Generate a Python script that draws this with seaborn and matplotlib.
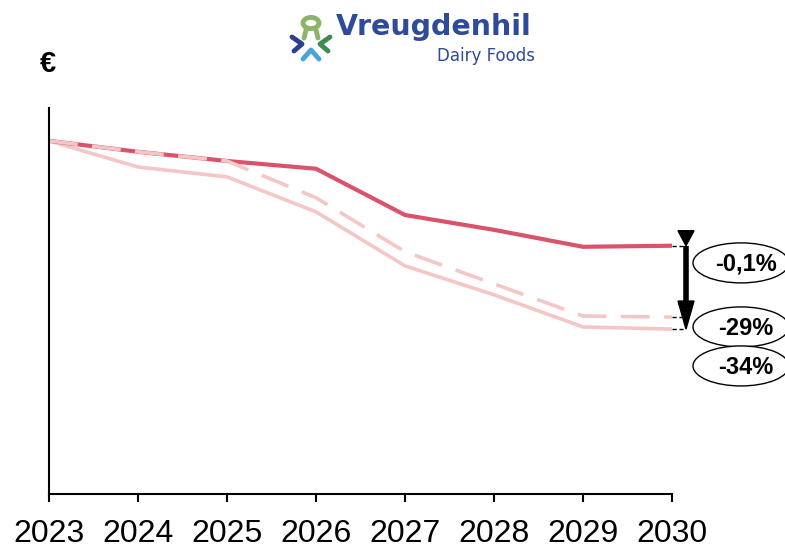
import matplotlib
matplotlib.use("Agg")
import matplotlib.pyplot as plt
from matplotlib.patches import Ellipse, Polygon, Circle
from matplotlib.lines import Line2D
import pandas as pd
import seaborn as sns

# Index values (2023 = 100)
years = [2023, 2024, 2025, 2026, 2027, 2028, 2029, 2030]
scenario_base = [100, 96.9, 94.3, 92.1, 79.0, 74.8, 70.0, 70.3]
scenario_dashed = [100, 96.9, 94.3, 83.9, 68.6, 59.5, 50.4, 50.1]
scenario_light = [100, 92.6, 89.8, 79.9, 64.6, 56.4, 47.3, 46.7]
gap_labels = ["-0,1%", "-29%", "-34%"]

RED = "#D9546B"
PINK = "#F5C6C6"
BLUE = "#2E4A9B"

sns.set_style("white")
plt.rcParams["font.family"] = ["Liberation Sans", "DejaVu Sans"]
plt.rcParams["text.color"] = "black"
plt.rcParams["xtick.color"] = "black"
plt.rcParams["xtick.labelcolor"] = "black"

fig = plt.figure(figsize=(7.85, 5.45), dpi=100)
ax = fig.add_axes([49 / 785, 51 / 545, 623 / 785, 386 / 545])

df = pd.DataFrame({"year": years, "base": scenario_base,
                   "dashed": scenario_dashed, "light": scenario_light})

sns.lineplot(data=df, x="year", y="light", ax=ax, color=PINK, lw=2.6)
sns.lineplot(data=df, x="year", y="base", ax=ax, color=RED, lw=3.0)
sns.lineplot(data=df, x="year", y="dashed", ax=ax, color=PINK, lw=2.6,
             dashes=False, linestyle=(0, (8, 4)))

ax.set_xlim(2023, 2030)
ax.set_ylim(0, 109.3)
ax.set_xticks(years)
ax.set_xticklabels([str(y) for y in years], fontsize=23, color="black")
ax.set_yticks([])
ax.set_xlabel("")
ax.set_ylabel("")
for side in ["top", "right"]:
    ax.spines[side].set_visible(False)
for side in ["left", "bottom"]:
    ax.spines[side].set_color("black")
    ax.spines[side].set_linewidth(1.5)
ax.tick_params(axis="x", direction="out", length=6, width=1.5, color="black",
               pad=12, bottom=True)

# Gap markers at the end of the horizon
px_x = 7 / 623
px_y = 100 / 353
xa = 2030 + 14 * px_x
end_vals = [scenario_base[-1], scenario_dashed[-1], scenario_light[-1]]
for v in end_vals:
    ax.plot([2030, xa], [v, v], color="black", lw=1, ls=(0, (3, 2)), clip_on=False)

top = scenario_base[-1]
bot = scenario_light[-1]
ax.plot([xa, xa], [top, bot + 24 * px_y], color="black", lw=4, clip_on=False,
        solid_capstyle="butt")
hw = 8 * px_x
ax.add_patch(Polygon([[xa - hw, top + 15 * px_y], [xa + hw, top + 15 * px_y], [xa, top]],
                     closed=True, color="black", clip_on=False))
ax.add_patch(Polygon([[xa - hw, bot + 28 * px_y], [xa + hw, bot + 28 * px_y], [xa, bot]],
                     closed=True, color="black", clip_on=False))

# Labels in ellipses
ex = 2023 + (741 - 49) * px_x
ell_y = [(494 - 263) * px_y, (494 - 327) * px_y, (494 - 366) * px_y]
for lab, ly in zip(gap_labels, ell_y):
    ax.add_patch(Ellipse((ex, ly), 96 * px_x, 40 * px_y, facecolor="white",
                         edgecolor="black", lw=1, clip_on=False, zorder=5))
    ax.text(ex + 5 * px_x, ly - 1.5 * px_y, lab, ha="center", va="center",
            fontsize=17, fontweight="bold", color="black", zorder=6, clip_on=False)

# Currency symbol
fig.text(48 / 785, 1 - 64 / 545, "€", fontsize=21, fontweight="bold",
         color="black", ha="center", va="center")

# Logo
def fx(x):
    return x / 785


def fy(y):
    return 1 - y / 545


fig.text(fx(336), fy(27), "Vreugdenhil", fontsize=20.5, fontweight="bold",
         family="DejaVu Sans", color=BLUE, ha="left", va="center")
fig.text(fx(535), fy(56), "Dairy Foods", fontsize=12, family="DejaVu Sans",
         color=BLUE, ha="right", va="center")
fig.add_artist(Circle((fx(311), fy(23)), 8 / 785, transform=fig.transFigure,
                      facecolor="none", edgecolor="#8DB56A", lw=3.5))
fig.add_artist(Line2D([fx(306), fx(304)], [fy(30), fy(38)], color="#8DB56A", lw=3.5,
                      transform=fig.transFigure))
fig.add_artist(Line2D([fx(316), fx(318)], [fy(30), fy(38)], color="#8DB56A", lw=3.5,
                      transform=fig.transFigure))
fig.add_artist(Line2D([fx(292), fx(302), fx(294)], [fy(37), fy(44), fy(51)],
                      color="#2B3F8F", lw=3.5, transform=fig.transFigure))
fig.add_artist(Line2D([fx(330), fx(320), fx(328)], [fy(37), fy(44), fy(51)],
                      color="#3C8C4E", lw=3.5, transform=fig.transFigure))
fig.add_artist(Line2D([fx(303), fx(311), fx(319)], [fy(59), fy(50), fy(59)],
                      color="#4BA3DC", lw=3.5, transform=fig.transFigure))

fig.savefig("out.png", dpi=100, facecolor="white")
